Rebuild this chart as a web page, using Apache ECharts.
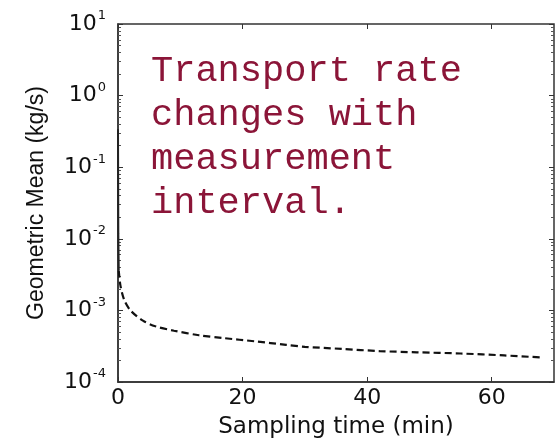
<!DOCTYPE html>
<html lang="en">
<head>
  <meta charset="UTF-8">
  <title>Geometric mean vs sampling time</title>
  <style>
    html, body { margin: 0; padding: 0; background: #fff; }
  </style>
</head>
<body>
  <div id="chart" style="width:558px;height:447px"></div>
  <script src="https://cdn.jsdelivr.net/npm/echarts@6/dist/echarts.min.js"></script>
  <script>
    // sampling time (min) and geometric mean transport rate (kg/s)
    const steepTime = [0, 0.05, 0.12];
    const steepRate = [0.34, 0.012, 0.0036];
    const sampTime = [0.12, 0.4, 1, 2, 4, 6, 9, 13, 17, 22, 27, 30, 36, 42, 48, 55, 62, 68];
    const sampRate = [0.0036, 0.0022, 0.0014, 0.001, 0.00072, 0.0006, 0.00052, 0.00045, 0.00041,
      0.00037, 0.00033, 0.00031, 0.00029, 0.00027, 0.00026, 0.00025, 0.000235, 0.00022];
    const xTicks = [0, 20, 40, 60];
    const decades = [-4, -3, -2, -1, 0, 1];
    const note = ['Transport rate', 'changes with', 'measurement', 'interval.'];

    // log-spaced minor ticks (2..9 x 10^n)
    const minorVals = [];
    decades.slice(0, -1).forEach(function (d) {
      for (let m = 2; m <= 9; m++) minorVals.push(m * Math.pow(10, d));
    });

    const lineCol = '#333';
    const chart = echarts.init(document.getElementById('chart'));

    function yAx(pos, opts) {
      return Object.assign({
        type: 'log', logBase: 10, min: 1e-4, max: 10, position: pos,
        axisLine: { show: false },
        axisLabel: { show: false },
        splitLine: { show: false },
        axisTick: { show: false }
      }, opts);
    }

    const option = {
      animation: false,
      grid: { left: 118, top: 24, right: 4, bottom: 65, show: true, borderColor: lineCol, borderWidth: 1.5 },
      xAxis: [{
        type: 'value', min: 0, max: 70, interval: 20, position: 'bottom',
        name: 'Sampling time (min)', nameLocation: 'middle', nameGap: 34,
        nameTextStyle: { fontFamily: 'DejaVu Sans', fontSize: 23, color: '#111' },
        axisLine: { show: true, onZero: false, lineStyle: { color: lineCol, width: 1.5 } },
        axisTick: { inside: true, length: 5, lineStyle: { color: lineCol }, customValues: xTicks },
        axisLabel: { fontFamily: 'DejaVu Sans', fontSize: 22, color: '#111', margin: 5, customValues: xTicks },
        splitLine: { show: false }
      }, {
        type: 'value', min: 0, max: 70, interval: 20, position: 'top',
        axisLine: { show: false },
        axisTick: { inside: true, length: 5, lineStyle: { color: lineCol }, customValues: xTicks },
        axisLabel: { show: false },
        splitLine: { show: false }
      }],
      yAxis: [
        yAx('left', {
          interval: 1,
          name: 'Geometric Mean (kg/s)', nameLocation: 'middle', nameGap: 70, nameRotate: 90,
          nameTextStyle: { fontFamily: 'Liberation Sans', fontSize: 23, color: '#111' },
          axisLine: { show: true, lineStyle: { color: lineCol, width: 1.5 } },
          axisTick: { show: true, inside: true, length: 5, lineStyle: { color: lineCol } },
          axisLabel: {
            show: true, margin: 12,
            formatter: function (v) {
              return '{b|10}{s|' + Math.round(Math.log10(v)) + '}';
            },
            rich: {
              b: { fontFamily: 'DejaVu Sans', fontSize: 22, color: '#111' },
              s: { fontFamily: 'DejaVu Sans', fontSize: 13, color: '#111', verticalAlign: 'bottom', padding: [0, 0, 16, 1] }
            }
          }
        }),
        yAx('left', { axisTick: { show: true, inside: true, length: 3, lineStyle: { color: '#555' }, customValues: minorVals } }),
        yAx('right', { axisTick: { show: true, inside: true, length: 5, lineStyle: { color: lineCol }, customValues: decades.map(function (d) { return Math.pow(10, d); }) } }),
        yAx('right', { axisTick: { show: true, inside: true, length: 3, lineStyle: { color: '#555' }, customValues: minorVals } })
      ],
      graphic: [{
        type: 'text', left: 151, top: 49,
        style: {
          text: note.join('\n'),
          fontFamily: 'Liberation Mono', fontSize: 37, lineHeight: 44,
          fill: '#8b1538'
        }
      }],
      series: [{
        type: 'line', xAxisIndex: 0, yAxisIndex: 0, showSymbol: false,
        data: steepTime.map(function (t, i) { return [t, steepRate[i]]; }),
        lineStyle: { color: '#222', width: 2 }
      }, {
        type: 'line', xAxisIndex: 0, yAxisIndex: 0, showSymbol: false, smooth: 0.3,
        data: sampTime.map(function (t, i) { return [t, sampRate[i]]; }),
        lineStyle: { color: '#111', width: 2.2, type: [7, 4] }
      }]
    };

    chart.setOption(option);
  </script>
</body>
</html>
